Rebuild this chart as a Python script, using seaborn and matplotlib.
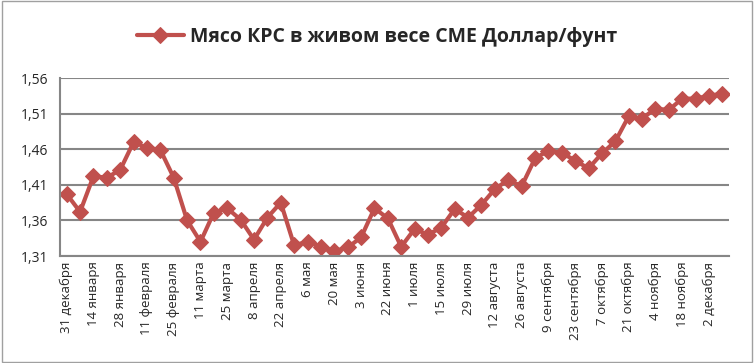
import matplotlib
matplotlib.use("Agg")
import matplotlib.pyplot as plt
from matplotlib.ticker import FixedLocator, FuncFormatter
import numpy as np
import pandas as pd
import seaborn as sns

# weekly prices, USD per pound
prices = [
    1.397, 1.372, 1.422, 1.420, 1.431, 1.470, 1.462, 1.459, 1.420, 1.360,
    1.330, 1.371, 1.377, 1.361, 1.333, 1.364, 1.385, 1.325, 1.330, 1.323,
    1.317, 1.322, 1.336, 1.377, 1.363, 1.323, 1.348, 1.340, 1.350, 1.376,
    1.364, 1.382, 1.404, 1.417, 1.408, 1.447, 1.458, 1.455, 1.444, 1.433,
    1.454, 1.471, 1.506, 1.503, 1.517, 1.515, 1.531, 1.531, 1.535, 1.538,
]
# every second week is labelled
week_labels = [
    "31 декабря", "14 января", "28 января", "11 февраля", "25 февраля",
    "11 марта", "25 марта", "8 апреля", "22 апреля", "6 мая", "20 мая",
    "3 июня", "22 июня", "1 июля", "15 июля", "29 июля", "12 августа",
    "26 августа", "9 сентября", "23 сентября", "7 октября", "21 октября",
    "4 ноября", "18 ноября", "2 декабря",
]
y_ticks = [1.31, 1.36, 1.41, 1.46, 1.51, 1.56]
series_name = "Мясо КРС в живом весе CME Доллар/фунт"

RED = "#C0504D"
GREY = "#868686"

sns.set_style("white")
plt.rcParams["font.family"] = ["Open Sans", "DejaVu Sans"]

df = pd.DataFrame({"week": np.arange(len(prices)), "price": prices})

fig = plt.figure(figsize=(7.54, 3.63), dpi=100)
ax = fig.add_axes([60 / 754, 1 - 256 / 363, 669 / 754, 178 / 363])

sns.lineplot(data=df, x="week", y="price", ax=ax, color=RED, linewidth=3,
             marker="D", markersize=8, markeredgecolor=RED, sort=False,
             label=series_name)

ax.set_xlim(-0.5, len(prices) - 0.5)
ax.set_ylim(y_ticks[0], y_ticks[-1])
ax.set_yticks(y_ticks)
ax.yaxis.set_major_formatter(FuncFormatter(lambda v, _: f"{v:.2f}".replace(".", ",")))
ax.grid(axis="y", color=GREY, linewidth=1.5)
ax.set_axisbelow(True)

ax.set_xticks(np.arange(0, len(prices), 2))
ax.set_xticklabels(week_labels, rotation=90, fontsize=9.5)
ax.xaxis.set_minor_locator(FixedLocator(np.arange(-0.5, len(prices), 1)))
ax.tick_params(axis="x", which="major", length=0, pad=4)
ax.tick_params(axis="x", which="minor", length=5, color=GREY, width=1.2, direction="out")
ax.tick_params(axis="y", length=5, color=GREY, width=1.2, labelsize=10, direction="out")
ax.set_xlabel("")
ax.set_ylabel("")

for side in ["top", "right"]:
    ax.spines[side].set_visible(False)
for side in ["left", "bottom"]:
    ax.spines[side].set_color(GREY)
    ax.spines[side].set_linewidth(1.5)

leg = ax.legend(loc="center", bbox_to_anchor=(0.5, 1 - 37 / 363),
                bbox_transform=fig.transFigure, frameon=False,
                prop={"weight": "bold", "size": 14}, handlelength=2.4,
                handletextpad=0.3)

fig.patches.append(plt.Rectangle((0.003, 0.004), 0.994, 0.992, transform=fig.transFigure,
                                 fill=False, edgecolor="#A0A0A0", linewidth=1))

fig.savefig("out.png", dpi=100)
